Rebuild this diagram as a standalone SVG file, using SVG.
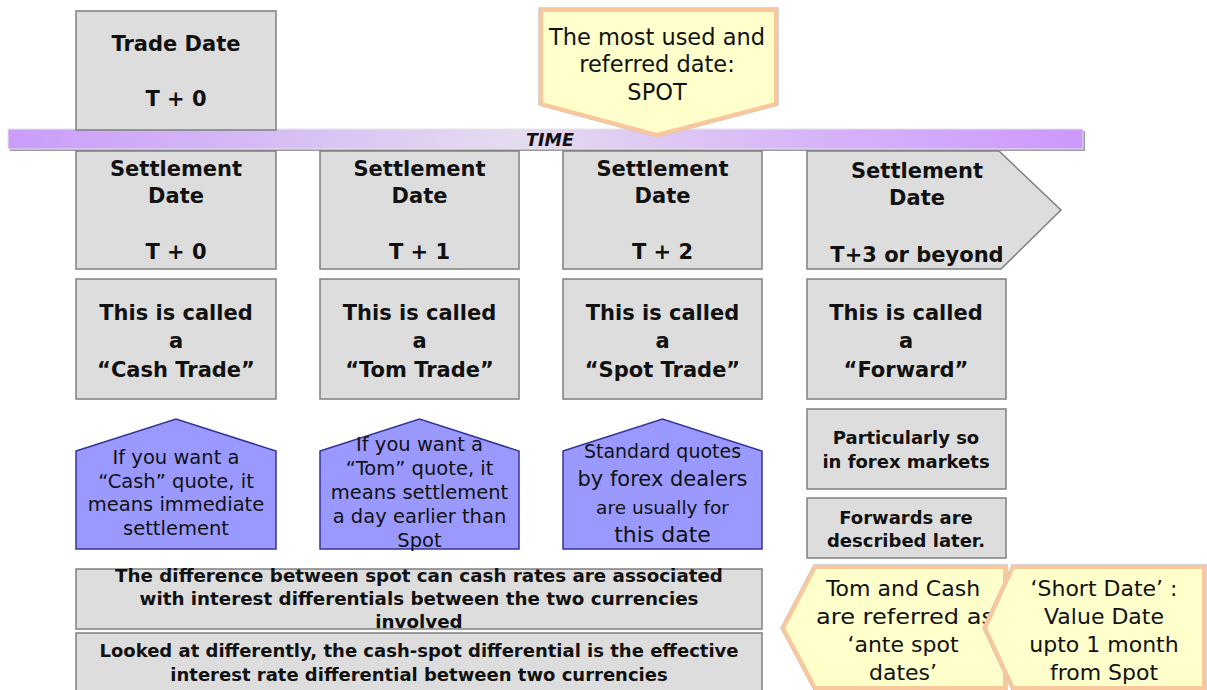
<svg xmlns="http://www.w3.org/2000/svg" width="1207" height="690" viewBox="0 0 1207 690">
<defs>
<linearGradient id="barGrad" x1="0" y1="0" x2="1" y2="0">
<stop offset="0" stop-color="#c99cfa"/>
<stop offset="0.25" stop-color="#d6bdf4"/>
<stop offset="0.47" stop-color="#e5dcf0"/>
<stop offset="0.75" stop-color="#d6b4f8"/>
<stop offset="1" stop-color="#cc99ff"/>
</linearGradient>
</defs>
<style>
.box{fill:#dddddd;stroke:#7f7f7f;stroke-width:1.5}
.house{fill:#9999ff;stroke:#333399;stroke-width:1.5}
.call{fill:#ffffcc;stroke:#f9c79c;stroke-width:4;stroke-linejoin:miter}
.shadow{fill:none;stroke:#c8c8c8;stroke-width:1.5}
text{font-family:"DejaVu Sans","Liberation Sans",sans-serif;fill:#111111;text-anchor:middle}
.b21{font-size:21px;font-weight:bold}
.b18{font-size:18px;font-weight:bold}
.r19{font-size:19.5px}
.r22{font-size:22px}
.time{font-size:17.5px;font-weight:bold;font-style:italic}
</style>

<g id="timebar">
<rect x="10" y="131" width="1075" height="20" fill="#9a9a9a"/>
<rect x="8" y="129" width="1075" height="20" fill="url(#barGrad)" stroke="#e6e6e6" stroke-width="1"/>
<text class="time" x="550" y="146">TIME</text>
</g>

<g id="trade-date">
<rect class="box" x="76" y="11" width="200" height="119"/>
<text class="b21" x="176" y="51">Trade Date</text>
<text class="b21" x="176" y="106">T + 0</text>
</g>

<g id="spot-callout">
<polygon class="shadow" points="539,8 778,8 778,105 657,137 539,105"/>
<polygon class="call" points="541,10 776,10 776,104 657,135 541,104"/>
<text class="r22" x="657" y="45" style="font-size:22.5px">The most used and</text>
<text class="r22" x="657" y="72" style="font-size:22.5px">referred date:</text>
<text class="r22" x="657" y="100" style="font-size:22.5px">SPOT</text>
</g>

<g id="settle-t0">
<rect class="box" x="76" y="151" width="200" height="118"/>
<text class="b21" x="176" y="176">Settlement</text>
<text class="b21" x="176" y="203">Date</text>
<text class="b21" x="176" y="259">T + 0</text>
</g>
<g id="settle-t1">
<rect class="box" x="320" y="151" width="199" height="118"/>
<text class="b21" x="419.5" y="176">Settlement</text>
<text class="b21" x="419.5" y="203">Date</text>
<text class="b21" x="419.5" y="259">T + 1</text>
</g>
<g id="settle-t2">
<rect class="box" x="563" y="151" width="199" height="118"/>
<text class="b21" x="662.5" y="176">Settlement</text>
<text class="b21" x="662.5" y="203">Date</text>
<text class="b21" x="662.5" y="259">T + 2</text>
</g>
<g id="settle-t3">
<polygon class="box" points="807,151 999,151 1061,210 1001,269 807,269"/>
<text class="b21" x="917" y="178">Settlement</text>
<text class="b21" x="917" y="205">Date</text>
<text class="b21" x="917" y="262">T+3 or beyond</text>
</g>

<g id="cash-trade">
<rect class="box" x="76" y="279" width="200" height="120"/>
<text class="b21" x="176" y="320">This is called</text>
<text class="b21" x="176" y="348">a</text>
<text class="b21" x="176" y="377">“Cash Trade”</text>
</g>
<g id="tom-trade">
<rect class="box" x="320" y="279" width="199" height="120"/>
<text class="b21" x="419.5" y="320">This is called</text>
<text class="b21" x="419.5" y="348">a</text>
<text class="b21" x="419.5" y="377">“Tom Trade”</text>
</g>
<g id="spot-trade">
<rect class="box" x="563" y="279" width="199" height="120"/>
<text class="b21" x="662.5" y="320">This is called</text>
<text class="b21" x="662.5" y="348">a</text>
<text class="b21" x="662.5" y="377">“Spot Trade”</text>
</g>
<g id="forward">
<rect class="box" x="807" y="279" width="199" height="120"/>
<text class="b21" x="906" y="320">This is called</text>
<text class="b21" x="906" y="348">a</text>
<text class="b21" x="906" y="377">“Forward”</text>
</g>

<g id="cash-note">
<polygon class="house" points="76,451 176,419 276,451 276,549 76,549"/>
<text class="r19" x="176" y="464">If you want a</text>
<text class="r19" x="176" y="488">“Cash” quote, it</text>
<text class="r19" x="176" y="511">means immediate</text>
<text class="r19" x="176" y="535">settlement</text>
</g>
<g id="tom-note">
<polygon class="house" points="320,451 419.5,419 519,451 519,549 320,549"/>
<text class="r19" x="419.5" y="451">If you want a</text>
<text class="r19" x="419.5" y="475">“Tom” quote, it</text>
<text class="r19" x="419.5" y="499">means settlement</text>
<text class="r19" x="419.5" y="523">a day earlier than</text>
<text class="r19" x="419.5" y="547">Spot</text>
</g>
<g id="spot-note">
<polygon class="house" points="563,451 662.5,419 762,451 762,549 563,549"/>
<text x="662.5" y="458" style="font-size:19px">Standard quotes</text>
<text x="662.5" y="486" style="font-size:21px">by forex dealers</text>
<text x="662.5" y="514" style="font-size:18.5px">are usually for</text>
<text x="662.5" y="542" style="font-size:22px">this date</text>
</g>

<g id="forex-note">
<rect class="box" x="807" y="409" width="199" height="80"/>
<text class="b18" x="906" y="444">Particularly so</text>
<text class="b18" x="906" y="468">in forex markets</text>
</g>
<g id="forwards-later">
<rect class="box" x="807" y="498" width="199" height="60"/>
<text class="b18" x="906" y="524">Forwards are</text>
<text class="b18" x="906" y="547">described later.</text>
</g>

<g id="diff-note">
<rect class="box" x="76" y="569" width="686" height="60"/>
<text class="b18" x="419" y="582" style="font-size:18.3px">The difference between spot can cash rates are associated</text>
<text class="b18" x="419" y="605" style="font-size:18.3px">with interest differentials between the two currencies</text>
<text class="b18" x="419" y="628" style="font-size:18.3px">involved</text>
</g>
<g id="cash-spot-note">
<rect class="box" x="76" y="633" width="686" height="62"/>
<text class="b18" x="419" y="657">Looked at differently, the cash-spot differential is the effective</text>
<text class="b18" x="419" y="681">interest rate differential between two currencies</text>
</g>

<g id="ante-spot">
<polygon class="shadow" points="814,565 1007,565 1007,690 814,690 781,628"/>
<polygon class="call" points="815,567 1005,567 1005,688 815,688 783,628"/>
<text class="r22" x="903" y="596">Tom and Cash</text>
<text class="r22" x="905" y="624" textLength="178" lengthAdjust="spacingAndGlyphs">are referred as</text>
<text class="r22" x="903" y="652">‘ante spot</text>
<text class="r22" x="903" y="680">dates’</text>
</g>
<g id="short-date">
<polygon class="shadow" points="1012,565 1206,565 1206,690 1012,690 983,628"/>
<polygon class="call" points="1013,567 1204,567 1204,688 1013,688 985,628"/>
<text class="r22" x="1104" y="596">‘Short Date’ :</text>
<text class="r22" x="1104" y="624">Value Date</text>
<text class="r22" x="1104" y="652">upto 1 month</text>
<text class="r22" x="1104" y="680">from Spot</text>
</g>

<g id="connectors"></g>
</svg>
